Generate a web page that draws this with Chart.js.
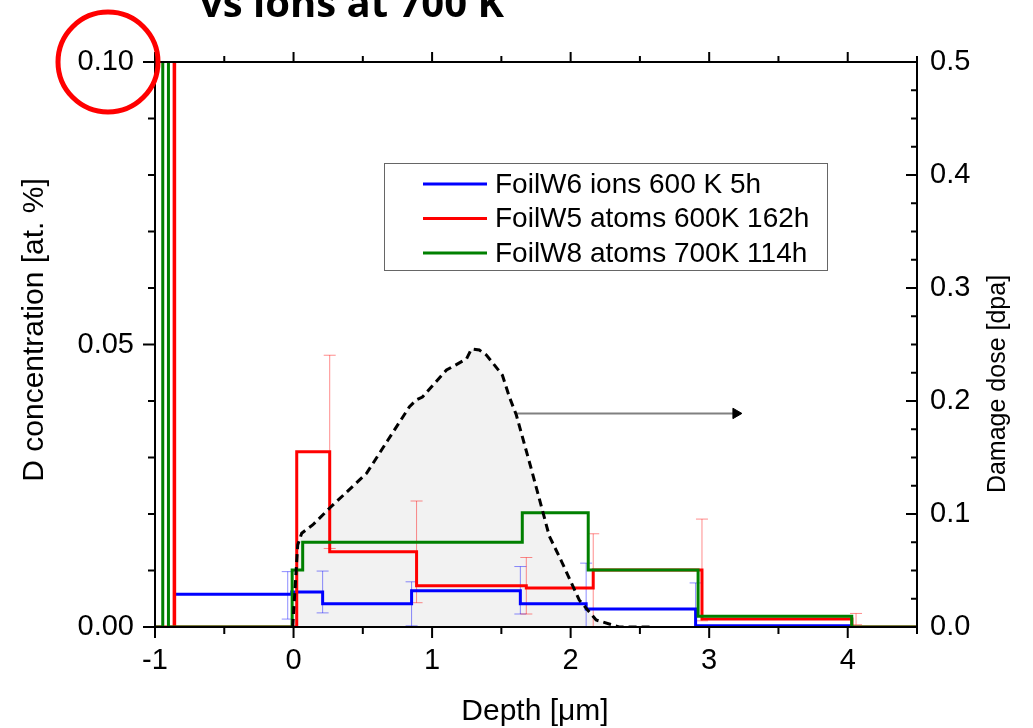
<!DOCTYPE html>
<html>
<head>
<meta charset="utf-8">
<script src="https://cdn.jsdelivr.net/npm/chart.js@4.4.0/dist/chart.umd.min.js"></script>
<style>
  html, body { margin: 0; padding: 0; background: #fff; }
  #wrap { width: 1033px; height: 728px; position: relative; overflow: hidden; }
</style>
</head>
<body>
<div id="wrap"><canvas id="chart" width="1033" height="728"></canvas></div>
<script>
// axis ticks
const xTicks = [-1, 0, 1, 2, 3, 4];
const concTicks = [0, 0.05, 0.10];
const doseTicks = [0, 0.1, 0.2, 0.3, 0.4, 0.5];

const seriesNames = ['FoilW6 ions 600 K 5h', 'FoilW5 atoms 600K 162h', 'FoilW8 atoms 700K 114h'];
const seriesColors = ['#0000ff', '#ff0000', '#008000'];

// step profiles: layer edge [um] and D concentration [at.%] from that edge on
const w6Edges = [-0.858, -0.013, 0.210, 0.852, 1.637, 2.112, 2.902, 4.022];
const w6Conc  = [0.0058, 0.0062, 0.0041, 0.0064, 0.0041, 0.0032, 0.0002, 0];
const w5Edges = [-1, -0.862, -0.858, 0.023, 0.261, 0.888, 1.680, 2.163, 2.948, 4.030, 4.5];
const w5Conc  = [0, 0.3, 0, 0.0310, 0.0133, 0.0073, 0.0069, 0.0101, 0.0014, 0, 0];
const w8Edges = [-1, -0.944, -0.903, -0.010, 0.066, 1.651, 2.127, 2.920, 4.029, 4.5];
const w8Conc  = [0, 0.3, 0, 0.0101, 0.0150, 0.0202, 0.0101, 0.0019, 0, 0];

// error bars
const w6ErrX = [-0.042, 0.210, 0.852, 1.637, 2.112, 2.902];
const w6ErrY = [0.0056, 0.0062, 0.0041, 0.0065, 0.0041, 0.0032];
const w6Err  = [0.0042, 0.0037, 0.0039, 0.0042, 0.0072, 0.0046];
const w5ErrX = [0.261, 0.888, 1.680, 2.163, 2.948, 4.060];
const w5ErrY = [0.0310, 0.0133, 0.0073, 0.0069, 0.0101, 0.0014];
const w5Err  = [0.0171, 0.0090, 0.0050, 0.0096, 0.0090, 0.0010];

// damage dose profile [dpa]
const doseX = [-0.006, 0.03, 0.059, 0.138, 0.261, 0.527, 0.679, 0.837, 0.887, 0.93, 1.104, 1.248, 1.284,
               1.341, 1.392, 1.507, 1.558, 1.608, 1.724, 1.846, 1.94, 2.062, 2.184, 2.35, 2.59];
const doseY = [0, 0.0726, 0.083, 0.0903, 0.1053, 0.136, 0.165, 0.195, 0.201, 0.2035, 0.2274, 0.2372, 0.246,
               0.2451, 0.2407, 0.223, 0.2035, 0.1876, 0.1363, 0.0805, 0.0566, 0.0239, 0.0062, 0, 0];

// arrow pointing to the dose axis
const arrowX = [1.608, 3.193];
const arrowLevel = 0.189;

const FONT = '"Liberation Sans", Arial, sans-serif';

function steps(edges, vals) {
  return edges.map((x, i) => ({x: x, y: vals[i]}));
}
function errSegments(xs, ys, es) {
  const out = [];
  xs.forEach((x, i) => {
    out.push({x: x, y: ys[i] - es[i]}, {x: x, y: ys[i] + es[i]}, {x: x, y: null});
  });
  return out;
}

const stepStyle = {stepped: true, borderWidth: 3, pointRadius: 0, fill: false};
const errStyle = {borderWidth: 1, pointStyle: 'line', pointRadius: 6, pointBorderWidth: 1, spanGaps: false, fill: false};

const datasets = [
  Object.assign({label: 'dose', data: steps(doseX, doseY), yAxisID: 'y2', borderColor: '#000',
    borderWidth: 3, borderDash: [8, 5], pointRadius: 0, fill: false, tension: 0}),
  Object.assign({label: seriesNames[2], data: steps(w8Edges, w8Conc), yAxisID: 'y', borderColor: seriesColors[2]}, stepStyle),
  Object.assign({label: seriesNames[1], data: steps(w5Edges, w5Conc), yAxisID: 'y', borderColor: seriesColors[1]}, stepStyle),
  Object.assign({label: seriesNames[0], data: steps(w6Edges, w6Conc), yAxisID: 'y', borderColor: seriesColors[0]}, stepStyle),
  Object.assign({label: 'err5', data: errSegments(w5ErrX, w5ErrY, w5Err), yAxisID: 'y',
    borderColor: 'rgba(255,0,0,0.45)', pointBorderColor: 'rgba(255,0,0,0.45)'}, errStyle),
  Object.assign({label: 'err6', data: errSegments(w6ErrX, w6ErrY, w6Err), yAxisID: 'y',
    borderColor: 'rgba(0,0,255,0.45)', pointBorderColor: 'rgba(0,0,255,0.45)'}, errStyle),
  {label: 'arrow', data: arrowX.map(x => ({x: x, y: arrowLevel})), yAxisID: 'y2',
    borderColor: '#808080', borderWidth: 2, pointStyle: 'triangle', pointRotation: 90,
    pointRadius: [0, 6], backgroundColor: '#000', pointBackgroundColor: '#000', pointBorderColor: '#000', pointBorderWidth: 1},
  {label: 'doseFill', data: steps(doseX, doseY), yAxisID: 'y2', borderWidth: 0, pointRadius: 0,
    fill: 'origin', backgroundColor: '#f2f2f2', tension: 0}
];

function drawTickSet(ctx, scale, values, len, side) {
  const a = scale.chart.chartArea;
  ctx.beginPath();
  values.forEach(v => {
    const p = scale.getPixelForValue(v);
    if (side === 'bottom') { ctx.moveTo(p, a.bottom); ctx.lineTo(p, a.bottom + len); }
    if (side === 'top') { ctx.moveTo(p, a.top); ctx.lineTo(p, a.top - len); }
    if (side === 'left') { ctx.moveTo(a.left, p); ctx.lineTo(a.left - len, p); }
    if (side === 'right') { ctx.moveTo(a.right, p); ctx.lineTo(a.right - len, p); }
  });
  ctx.stroke();
}
function range(from, to, step) {
  const r = [];
  for (let v = from; v <= to + 1e-9; v += step) r.push(+v.toFixed(4));
  return r;
}

const decor = {
  id: 'decor',
  beforeDraw(chart) {
    const ctx = chart.ctx;
    ctx.save();
    ctx.fillStyle = '#fff';
    ctx.fillRect(0, 0, chart.width, chart.height);
    ctx.restore();
  },
  afterDraw(chart) {
    const ctx = chart.ctx;
    const a = chart.chartArea;
    const sx = chart.scales.x, sy = chart.scales.y, sy2 = chart.scales.y2;
    ctx.save();
    ctx.strokeStyle = '#000';
    ctx.lineWidth = 2;
    ctx.strokeRect(a.left, a.top, a.right - a.left, a.bottom - a.top);

    // major / minor ticks
    const xMinor = range(-0.5, 4.5, 1);
    drawTickSet(ctx, sx, xTicks, 11, 'bottom');
    drawTickSet(ctx, sx, xMinor, 7, 'bottom');
    drawTickSet(ctx, sx, xTicks, 10, 'top');
    drawTickSet(ctx, sx, xMinor, 6, 'top');
    drawTickSet(ctx, sy, concTicks, 12, 'left');
    drawTickSet(ctx, sy, range(0, 0.1, 0.01).filter(v => !concTicks.includes(v)), 7, 'left');
    drawTickSet(ctx, sy2, doseTicks, 11, 'right');
    drawTickSet(ctx, sy2, range(0, 0.5, 0.025), 6, 'right');

    // axis titles
    ctx.fillStyle = '#000';
    ctx.textAlign = 'center';
    ctx.textBaseline = 'middle';
    ctx.font = '30px ' + FONT;
    ctx.fillText('Depth [\u03bcm]', 535, 712);
    ctx.save();
    ctx.translate(35, 330);
    ctx.rotate(-Math.PI / 2);
    ctx.fillText('D concentration [at. %]', 0, 0);
    ctx.restore();
    ctx.save();
    ctx.font = '25px ' + FONT;
    ctx.translate(998, 384);
    ctx.rotate(-Math.PI / 2);
    ctx.fillText('Damage dose [dpa]', 0, 0);
    ctx.restore();

    // legend
    const lx = 384, ly = 163, lw = 443, lh = 107;
    ctx.fillStyle = '#fff';
    ctx.fillRect(lx, ly, lw, lh);
    ctx.strokeStyle = '#666';
    ctx.lineWidth = 1;
    ctx.strokeRect(lx + 0.5, ly + 0.5, lw, lh);
    ctx.font = '28px ' + FONT;
    ctx.textAlign = 'left';
    seriesNames.forEach((name, i) => {
      const yy = ly + 21 + i * 34.5;
      ctx.strokeStyle = seriesColors[i];
      ctx.lineWidth = 3;
      ctx.beginPath();
      ctx.moveTo(lx + 39, yy);
      ctx.lineTo(lx + 103, yy);
      ctx.stroke();
      ctx.fillStyle = '#000';
      ctx.fillText(name, lx + 111, yy + 1);
    });

    // title, cut by the top edge
    ctx.font = 'bold 40px "Open Sans", ' + FONT;
    ctx.textBaseline = 'alphabetic';
    ctx.fillText('vs ions at 700 K', 200, 17);

    // highlight circle round the 0.10 label
    ctx.strokeStyle = '#ff0000';
    ctx.lineWidth = 5;
    ctx.beginPath();
    ctx.arc(a.left - 47, sy.getPixelForValue(concTicks[2]), 50, 0, Math.PI * 2);
    ctx.stroke();
    ctx.restore();
  }
};

const tickFont = {family: FONT, size: 29};

new Chart(document.getElementById('chart'), {
  type: 'line',
  data: {datasets: datasets},
  options: {
    responsive: false,
    animation: false,
    layout: {padding: {top: 62, left: 0, right: 0, bottom: 0}},
    plugins: {legend: {display: false}, tooltip: {enabled: false}, title: {display: false}},
    scales: {
      x: {
        type: 'linear', position: 'bottom', min: -1, max: 4.5,
        afterBuildTicks: s => { s.ticks = xTicks.map(v => ({value: v})); },
        afterFit: s => { s.height = 101; },
        grid: {display: false, drawTicks: false}, border: {display: false},
        ticks: {font: tickFont, color: '#000', padding: 17, autoSkip: false, maxRotation: 0,
          callback: v => String(v)}
      },
      y: {
        type: 'linear', position: 'left', min: 0, max: 0.1,
        afterBuildTicks: s => { s.ticks = concTicks.map(v => ({value: v})); },
        afterFit: s => { s.width = 155; },
        grid: {display: false, drawTicks: false}, border: {display: false},
        ticks: {font: tickFont, color: '#000', padding: 21, callback: v => v.toFixed(2)}
      },
      y2: {
        type: 'linear', position: 'right', min: 0, max: 0.5,
        afterBuildTicks: s => { s.ticks = doseTicks.map(v => ({value: v})); },
        afterFit: s => { s.width = 116; },
        grid: {display: false, drawTicks: false}, border: {display: false},
        ticks: {font: tickFont, color: '#000', padding: 13, callback: v => v.toFixed(1)}
      }
    }
  },
  plugins: [decor]
});
</script>
</body>
</html>
